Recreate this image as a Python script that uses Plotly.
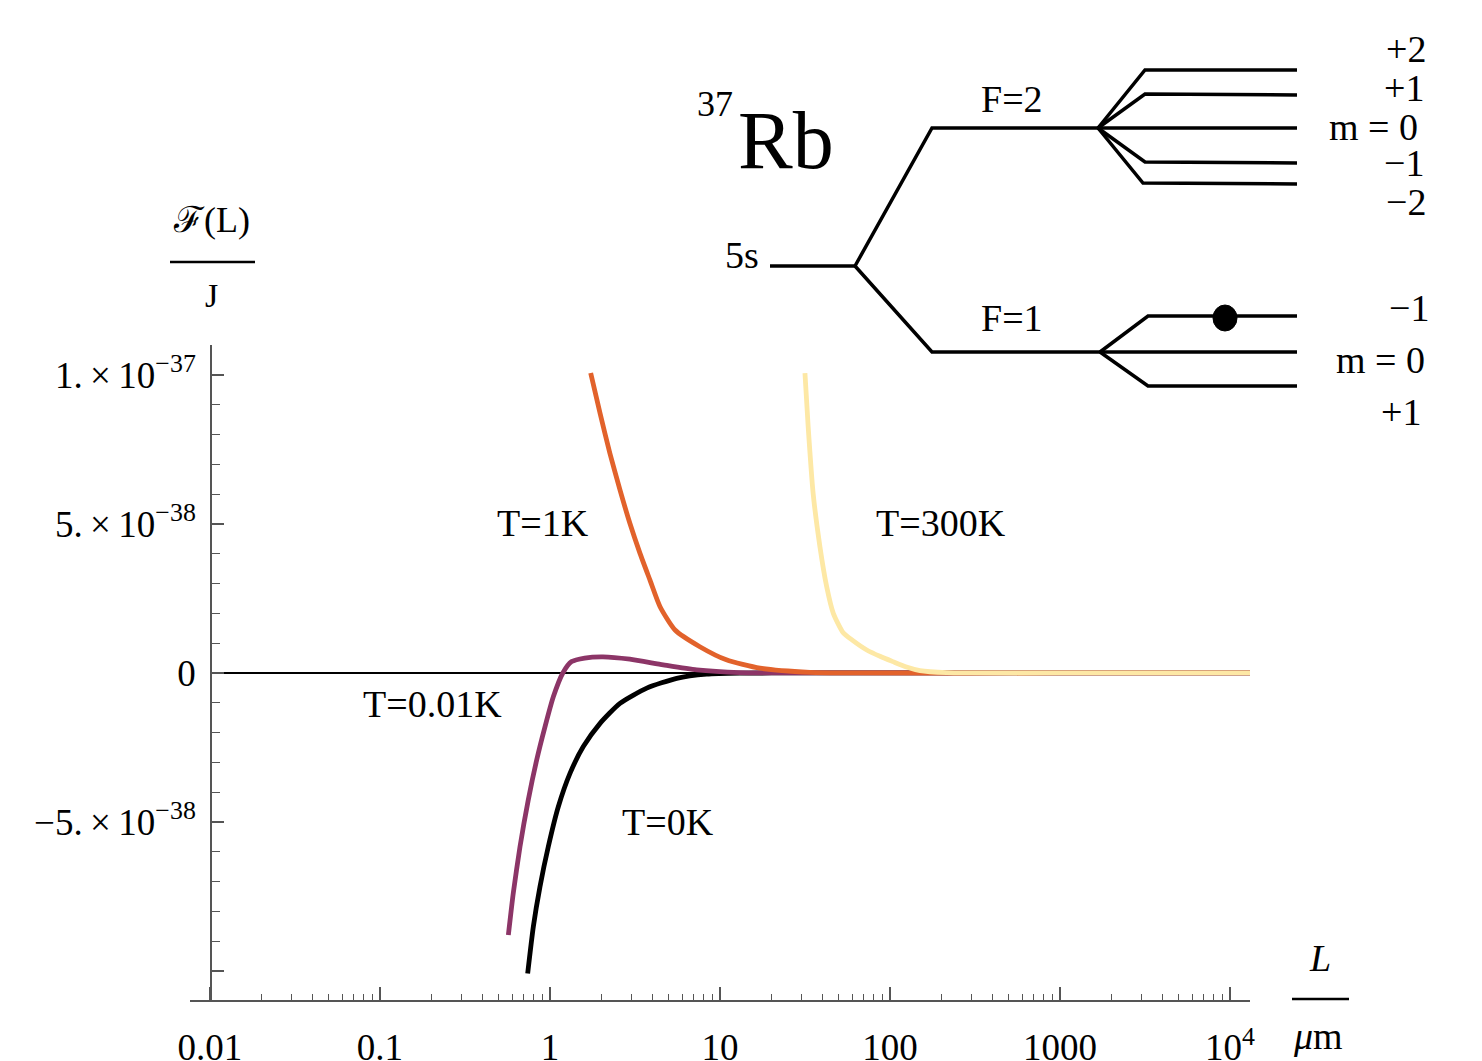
import plotly.graph_objects as go

# ---------------- data (F in units of 1e-38 J, L in micrometres) ----------------
L_T0 = [0.739, 0.798, 0.873, 0.977, 1.119, 1.311, 1.57, 1.97, 2.58, 3.71, 5.56, 8.35, 13.1, 30, 100, 1000, 14000]
F_T0 = [-10.08, -8.51, -7.17, -5.83, -4.49, -3.37, -2.47, -1.69, -1.02, -0.51, -0.18, -0.04, -0.005, 0, 0, 0, 0]

L_T001 = [0.569, 0.608, 0.666, 0.745, 0.835, 0.935, 1.046, 1.19, 1.34, 1.6, 2.05, 2.95, 4.64, 7.30, 13.1, 30, 100, 1000, 14000]
F_T001 = [-8.79, -7.39, -5.83, -4.26, -2.92, -1.80, -0.80, 0.0, 0.38, 0.50, 0.54, 0.46, 0.27, 0.10, 0.01, 0, 0, 0, 0]

L_T1 = [1.735, 1.97, 2.25, 2.58, 2.95, 3.38, 3.87, 4.44, 5.44, 7.61, 10.9, 17.2, 33.8, 66.5, 1000, 14000]
F_T1 = [10.06, 8.71, 7.37, 6.14, 5.02, 4.02, 3.12, 2.22, 1.44, 0.88, 0.44, 0.16, 0.02, 0, 0, 0]

L_T300 = [31.6, 33.0, 35.3, 38.7, 42.4, 46.4, 52.9, 60, 73, 88, 104, 125, 150, 216, 300, 1000, 14000]
F_T300 = [10.06, 8.27, 6.03, 4.24, 2.90, 2.00, 1.36, 1.10, 0.77, 0.55, 0.38, 0.20, 0.08, 0.01, 0, 0, 0]

SCALE = 1e-38

x_tickvals = [0.01, 0.1, 1, 10, 100, 1000, 10000]
x_ticktext = ["0.01", "0.1", "1", "10", "100", "1000", "10<sup>4</sup>"]
x_minorvals = [k * 10.0 ** e for e in range(-2, 5) for k in range(2, 10)]

y_tickvals = [-1e-37, -5e-38, 0, 5e-38, 1e-37]
y_ticktext = ["",
              "\u22125.\u2009\u00d7\u200910<sup>\u221238</sup>",
              "0",
              "5.\u2009\u00d7\u200910<sup>\u221238</sup>",
              "1.\u2009\u00d7\u200910<sup>\u221237</sup>"]

series = [
    ("T=0K", L_T0, F_T0, "#000000"),
    ("T=0.01K", L_T001, F_T001, "#8C3567"),
    ("T=1K", L_T1, F_T1, "#E2622B"),
    ("T=300K", L_T300, F_T300, "#FDE8A5"),
]

# ---------------- geometry helpers (reference pixels -> paper) ----------------
OFF = 8                       # page body margin
W, H = 1482 - OFF, 1061 - OFF
ML, MT = 190 - OFF, 345 - OFF
MR, MB = W - (1250 - OFF), H - (1000 - OFF)
PW, PH = W - ML - MR, H - MT - MB


def px(x):
    return (x - OFF - ML) / PW


def py(y):
    return (H - MB - (y - OFF)) / PH


FONT = "Liberation Serif"

fig = go.Figure()
for name, xs, ys, col in series:
    fig.add_trace(go.Scatter(
        x=xs, y=[v * SCALE for v in ys], mode="lines", name=name,
        line=dict(color=col, width=4.8, shape="spline", smoothing=0.6),
        showlegend=False, hoverinfo="skip"))

axis_col = "#555555"
fig.update_layout(
    template="none",
    width=W, height=H,
    margin=dict(l=ML, r=MR, t=MT, b=MB, pad=0),
    paper_bgcolor="white", plot_bgcolor="white",
    showlegend=False,
    xaxis=dict(
        type="log", range=[-2.1176, 4.1176], automargin=False,
        tickmode="array", tickvals=x_tickvals, ticktext=x_ticktext,
        ticks="inside", ticklen=13, tickwidth=1.5, tickcolor=axis_col,
        showline=True, linecolor=axis_col, linewidth=1.5,
        showgrid=False, zeroline=False,
        tickfont=dict(family=FONT, size=37, color="black"),
        ticklabelstandoff=14,
        minor=dict(tickmode="array", tickvals=x_minorvals, ticks="inside",
                   ticklen=6, tickwidth=1.2, tickcolor=axis_col, showgrid=False),
    ),
    yaxis=dict(
        range=[-1.097e-37, 1.10e-37], anchor="free", position=px(211),
        automargin=False,
        tickmode="array", tickvals=y_tickvals, ticktext=y_ticktext,
        ticks="inside", ticklen=12, tickwidth=1.5, tickcolor=axis_col,
        showline=True, linecolor=axis_col, linewidth=1.5,
        showgrid=False, zeroline=False,
        tickfont=dict(family=FONT, size=37, color="black"),
        ticklabelstandoff=7,
        minor=dict(tickmode="linear", tick0=0, dtick=1e-38, ticks="inside",
                   ticklen=8, tickwidth=1.2, tickcolor=axis_col, showgrid=False),
    ),
)

shapes = []
# zero line from the y axis to the right edge
shapes.append(dict(type="line", xref="paper", yref="y", x0=px(211), x1=1, y0=0, y1=0,
                   line=dict(color="black", width=2), layer="below"))

# axis label fraction bars
shapes.append(dict(type="line", xref="paper", yref="paper", x0=px(170), x1=px(255), y0=py(262), y1=py(262),
                   line=dict(color="black", width=2.5)))
shapes.append(dict(type="line", xref="paper", yref="paper", x0=px(1292), x1=px(1349), y0=py(999), y1=py(999),
                   line=dict(color="black", width=2.5)))

# energy level diagram (pixel geometry)
diagram_paths = [
    [(770, 266), (855, 266)],
    [(855, 266), (932, 128), (1098, 128), (1297, 128)],
    [(855, 266), (932, 352), (1100, 352), (1297, 352)],
    [(1098, 128), (1145, 70), (1297, 70)],
    [(1098, 128), (1145, 94), (1297, 95)],
    [(1098, 128), (1145, 162), (1297, 163)],
    [(1098, 128), (1143, 183), (1297, 184)],
    [(1100, 352), (1148, 316), (1297, 316)],
    [(1100, 352), (1148, 386), (1297, 386)],
]
for pts in diagram_paths:
    d = "M " + " L ".join(f"{px(a):.5f},{py(b):.5f}" for a, b in pts)
    shapes.append(dict(type="path", xref="paper", yref="paper", path=d,
                       line=dict(color="black", width=3.5)))
shapes.append(dict(type="circle", xref="paper", yref="paper", xsizemode="pixel", ysizemode="pixel",
                   xanchor=px(1225), yanchor=py(318), x0=-12, x1=12, y0=-13, y1=13,
                   fillcolor="black", line=dict(color="black", width=1)))

annotations = []


def add_text(text, x, y, size=38, xanchor="center", italic=False):
    annotations.append(dict(
        text=text, x=px(x), y=py(y), xref="paper", yref="paper",
        showarrow=False, xanchor=xanchor, yanchor="middle",
        font=dict(family=FONT, size=size, color="black",
                  style="italic" if italic else "normal")))


# curve labels
add_text("T=1K", 543, 523)
add_text("T=300K", 941, 523)
add_text("T=0.01K", 432, 704)
add_text("T=0K", 668, 822)

# axis labels
add_text("\u2131(L)", 211, 220, size=36)
add_text("J", 211, 295, size=34)
add_text("L", 1320, 958, size=38, italic=True)
add_text("<i>\u03bc</i>m", 1318, 1036, size=38)

# diagram labels
add_text("37", 715, 104, size=36)
add_text("Rb", 786, 140, size=82)
add_text("5s", 742, 255, size=38)
add_text("F=2", 1012, 99, size=38)
add_text("F=1", 1012, 318, size=38)
add_text("+2", 1428, 49, size=38, xanchor="right")
add_text("+1", 1426, 88, size=38, xanchor="right")
add_text("m = 0", 1420, 127, size=38, xanchor="right")
add_text("\u22121", 1426, 163, size=38, xanchor="right")
add_text("\u22122", 1428, 202, size=38, xanchor="right")
add_text("\u22121", 1431, 308, size=38, xanchor="right")
add_text("m = 0", 1427, 360, size=38, xanchor="right")
add_text("+1", 1423, 412, size=38, xanchor="right")

fig.update_layout(shapes=shapes, annotations=annotations)
fig.write_html("out.html")
